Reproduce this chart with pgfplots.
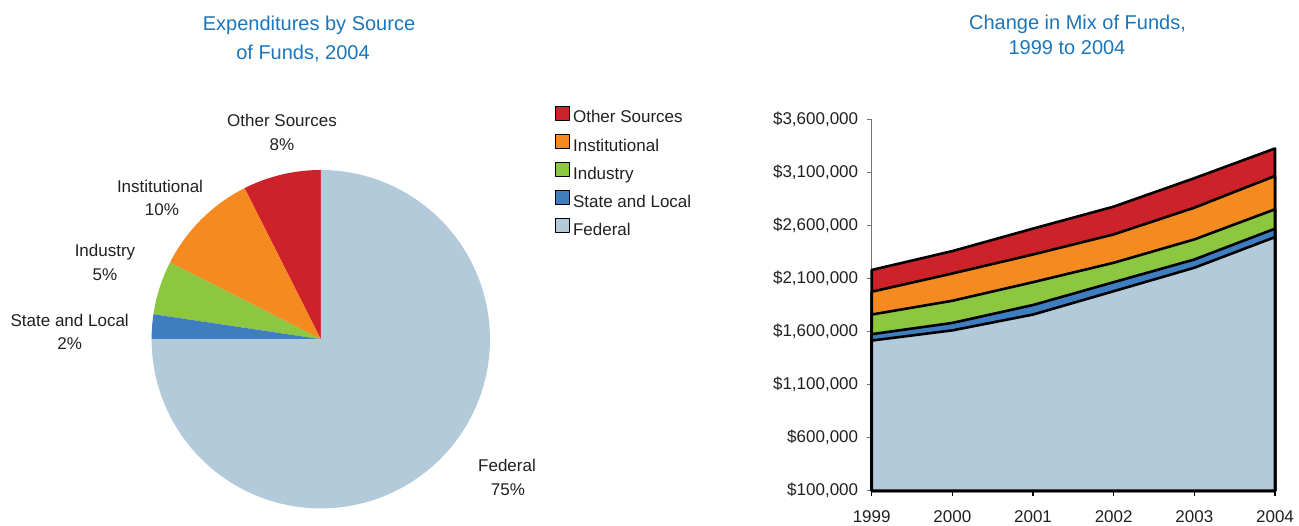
\documentclass[border=0pt]{standalone}
\usepackage{fontspec}
\setmainfont{Liberation Sans}
\usepackage{pgfplots}
\usepackage{pgfplotstable}
\pgfplotsset{compat=1.18}
\usepgfplotslibrary{polar}

\definecolor{cOther}{RGB}{205,34,41}
\definecolor{cInst}{RGB}{245,138,32}
\definecolor{cInd}{RGB}{141,198,63}
\definecolor{cState}{RGB}{63,125,193}
\definecolor{cFed}{RGB}{179,202,219}
\definecolor{cTitle}{RGB}{27,117,187}
\definecolor{cText}{RGB}{35,31,32}

\newcommand\lf{\fontsize{17}{20}\selectfont}
\newcommand\tf{\fontsize{20}{24}\selectfont}

% Pie: shares of expenditures by source, 2004 (%)
\def\pOther{7.44}
\def\pInst{10.06}
\def\pInd{5.14}
\def\pState{2.36}
\def\pFed{75.00}

% Stacked area: cumulative tops (dollars)
\pgfplotstableread{
year fed     state   ind     inst    other
1999 1515000 1575000 1760000 1975000 2180000
2000 1611000 1681000 1890000 2147000 2358000
2001 1760000 1850000 2065000 2326000 2570000
2002 1980000 2065000 2248000 2515000 2777000
2003 2201000 2279000 2468000 2767000 3045000
2004 2490000 2569000 2752000 3066000 3325000
}\tops

\begin{document}
\begin{tikzpicture}[x=1pt,y=1pt]
\useasboundingbox (0,0) rectangle (1299,525);
\pgfmathsetmacro\aA{90+3.6*\pOther}
\pgfmathsetmacro\aB{\aA+3.6*\pInst}
\pgfmathsetmacro\aC{\aB+3.6*\pInd}
\pgfmathsetmacro\aD{\aC+3.6*\pState}
\pgfmathsetmacro\aE{\aD+3.6*\pFed}

\begin{polaraxis}[at={(320.8pt,185.8pt)}, anchor=center, scale only axis,
  width=338.4pt, height=338.4pt, hide axis, xmin=0, xmax=360, ymin=0, ymax=1, clip=false]
\addplot[draw=none, fill=cOther, domain=90:\aA, samples=40] {1} -- (axis cs:0,0) -- cycle;
\addplot[draw=none, fill=cInst, domain=\aA:\aB, samples=40] {1} -- (axis cs:0,0) -- cycle;
\addplot[draw=none, fill=cInd, domain=\aB:\aC, samples=30] {1} -- (axis cs:0,0) -- cycle;
\addplot[draw=none, fill=cState, domain=\aC:\aD, samples=20] {1} -- (axis cs:0,0) -- cycle;
\addplot[draw=none, fill=cFed, domain=\aD:\aE, samples=200] {1} -- (axis cs:0,0) -- cycle;
\end{polaraxis}

\begin{axis}[at={(871.7pt,34.3pt)}, anchor=south west, scale only axis,
  width=403.3pt, height=371.4pt,
  xmin=1999, xmax=2004, ymin=100000, ymax=3600000,
  axis x line=bottom, axis y line=left, axis line style={-},
  x axis line style={line width=2.6pt, black},
  y axis line style={line width=0.9pt, draw=black!55},
  xtick={1999,2000,2001,2002,2003,2004},
  xticklabels={1999,2000,2001,2002,2003,2004},
  ytick={100000,600000,1100000,1600000,2100000,2600000,3100000,3600000},
  yticklabels={{\$100,000},{\$600,000},{\$1,100,000},{\$1,600,000},{\$2,100,000},{\$2,600,000},{\$3,100,000},{\$3,600,000}},
  scaled y ticks=false,
  tick align=outside, major tick length=5pt,
  xtick style={black, line width=1.2pt},
  ytick style={black!55, line width=0.9pt},
  tick label style={font=\lf, text=cText},
  xticklabel style={anchor=base, inner sep=0pt, yshift=-26.4pt},
  yticklabel style={anchor=east, inner sep=0pt, xshift=-8.4pt},
  clip=false,
  legend cell align=left,
  legend image code/.code={\draw[#1, line width=0.8pt, draw=black] (0pt,-1.5pt) rectangle (14pt,12.5pt);},
  legend style={at={(axis description cs:-0.7853,1.037)}, anchor=north west,
    draw=none, fill=none, inner sep=0pt, outer sep=0pt, row sep=6.8pt,
    font=\lf, text=cText,
    nodes={inner sep=0pt, text height=13pt, text depth=4pt},
    /tikz/every odd column/.append style={column sep=3.3pt}},
]
\addplot[fill=cOther, draw=black, line width=2.6pt, line join=round] table[x=year,y=other]{\tops} -- (axis cs:2004,100000) -- (axis cs:1999,100000) -- cycle;
\addlegendentry{Other Sources}
\addplot[fill=cInst, draw=black, line width=2.6pt, line join=round] table[x=year,y=inst]{\tops} -- (axis cs:2004,100000) -- (axis cs:1999,100000) -- cycle;
\addlegendentry{Institutional}
\addplot[fill=cInd, draw=black, line width=2.6pt, line join=round] table[x=year,y=ind]{\tops} -- (axis cs:2004,100000) -- (axis cs:1999,100000) -- cycle;
\addlegendentry{Industry}
\addplot[fill=cState, draw=black, line width=2.6pt, line join=round] table[x=year,y=state]{\tops} -- (axis cs:2004,100000) -- (axis cs:1999,100000) -- cycle;
\addlegendentry{State and Local}
\addplot[fill=cFed, draw=black, line width=2.6pt, line join=round] table[x=year,y=fed]{\tops} -- (axis cs:2004,100000) -- (axis cs:1999,100000) -- cycle;
\addlegendentry{Federal}
\end{axis}

\begin{scope}[every node/.style={anchor=base, inner sep=0pt, font=\lf, text=cText}]
\node at (282,398) {Other Sources};
\node at (282,374) {8\%};
\node at (160,332.7) {Institutional};
\node at (162,309) {10\%};
\node at (105,268.3) {Industry};
\node at (105,244.3) {5\%};
\node at (69.7,198.3) {State and Local};
\node at (69.7,175) {2\%};
\node at (507,53.3) {Federal};
\node at (508,29.3) {75\%};
\end{scope}
\begin{scope}[every node/.style={anchor=base, inner sep=0pt, font=\tf, text=cTitle}]
\node at (309,494) {Expenditures by Source};
\node at (303,465.7) {of Funds, 2004};
\node at (1077.5,495.7) {Change in Mix of Funds,};
\node at (1067,470) {1999 to 2004};
\end{scope}
\end{tikzpicture}
\end{document}
